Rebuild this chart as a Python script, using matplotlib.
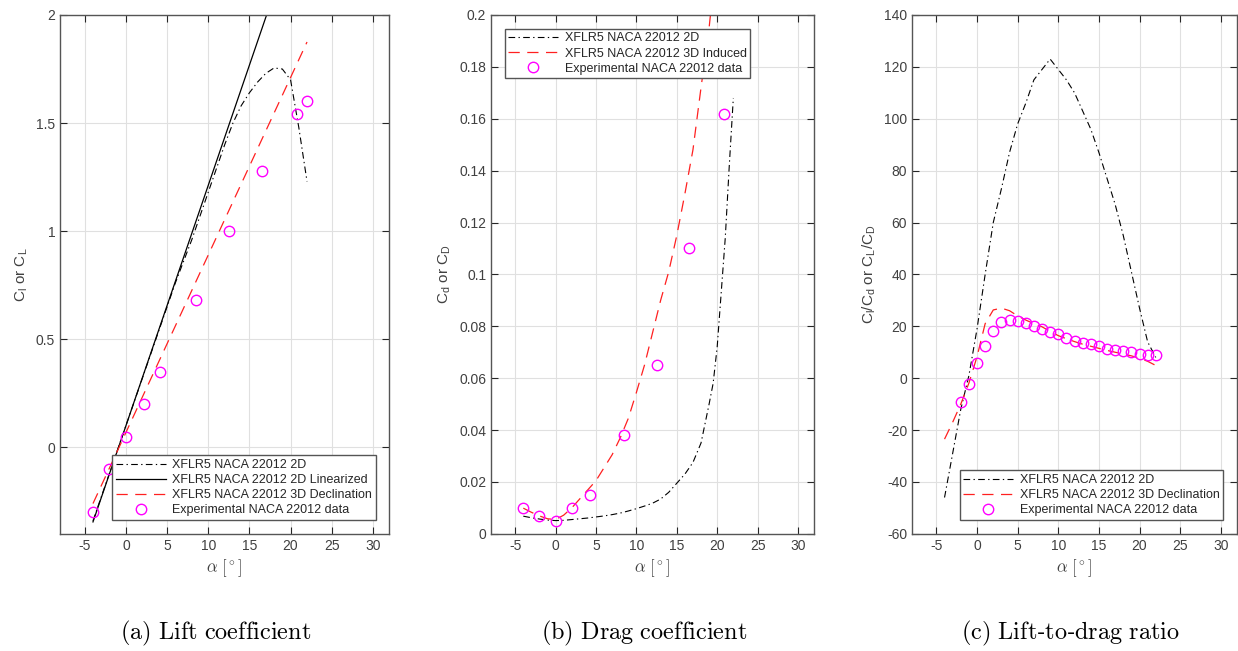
import numpy as np
import matplotlib
matplotlib.use("Agg")
import matplotlib.pyplot as plt

plt.rcParams['font.family'] = ['Liberation Sans', 'DejaVu Sans']
plt.rcParams['mathtext.fontset'] = 'custom'
plt.rcParams['mathtext.rm'] = 'Liberation Sans'
plt.rcParams['mathtext.it'] = 'Liberation Sans:italic'
plt.rcParams['axes.unicode_minus'] = False

# XFLR5 2D polar, NACA 22012
alpha_2d = [-4, -3, -2, -1, 0, 1, 2, 3, 4, 5, 6, 7, 8, 9, 10, 11, 12, 13, 14, 15, 16,
            17, 18, 19, 20, 21, 22]
cl_2d = [-0.34, -0.23, -0.12, -0.01, 0.10, 0.21, 0.32, 0.43, 0.54, 0.65, 0.76, 0.86,
         0.96, 1.07, 1.18, 1.29, 1.40, 1.50, 1.58, 1.64, 1.69, 1.73, 1.755, 1.75, 1.70,
         1.48, 1.23]
ld_2d = [-46, -29, -12, 1, 19, 40, 60, 73, 87, 98, 106, 115, 119, 123, 119, 115, 110,
         103, 96, 87, 77, 67, 55, 41, 27, 14, 8]

alpha_cd2d = [-4, -3, -2, -1, 0, 1, 2, 3, 4, 5, 6, 7, 8, 9, 10, 11, 12, 13, 14, 15, 16,
              17, 18, 19, 19.5, 20, 20.5, 21, 21.5, 22]
cd_2d = [0.0068, 0.0062, 0.0057, 0.0053, 0.0051, 0.0052, 0.0055, 0.0058, 0.0061, 0.0065,
         0.0069, 0.0074, 0.0080, 0.0088, 0.0097, 0.0107, 0.0118, 0.0134, 0.0160, 0.0195,
         0.0230, 0.0275, 0.0350, 0.0500, 0.0580, 0.0720, 0.0930, 0.1140, 0.1420, 0.1680]

# linearized 2D lift and 3D declined lift (straight lines)
alpha_lin = [-4, 22]
cl_lin = [-0.345, 2.546]
alpha_3d = [-4, 22]
cl_3d = [-0.26, 1.875]

# 3D with induced drag
alpha_3dcd = list(range(-4, 23))
cd_3d = [0.0099, 0.0083, 0.0069, 0.0058, 0.0055, 0.0072, 0.0100, 0.0135, 0.0170, 0.0205,
         0.0255, 0.0305, 0.0370, 0.0445, 0.0545, 0.0650, 0.0775, 0.0900, 0.1010, 0.1150,
         0.1310, 0.1480, 0.1720, 0.1950, 0.2250, 0.2600, 0.3000]
ld_3d = [-23.5, -17.0, -10.0, -1.9, 8.3, 21.0, 26.3, 27.0, 26.0, 24.0, 22.4, 21.0, 19.8,
         18.0, 16.4, 15.2, 14.1, 13.1, 12.3, 11.5, 10.7, 10.0, 9.3, 8.6, 7.7, 6.5, 4.9]

# experimental data
alpha_exp_cl = [-4, -2, 0, 2.2, 4.2, 8.5, 12.5, 16.5, 20.8, 22]
cl_exp = [-0.3, -0.1, 0.05, 0.2, 0.35, 0.68, 1.0, 1.28, 1.54, 1.6]
alpha_exp_cd = [-4, -2, 0, 2, 4.2, 8.5, 12.5, 16.5, 20.8]
cd_exp = [0.010, 0.007, 0.005, 0.010, 0.015, 0.038, 0.065, 0.110, 0.162]
alpha_exp_ld = list(range(-2, 23))
ld_exp = [-9.2, -2.3, 5.9, 12.4, 18.3, 21.5, 22.3, 21.9, 21.4, 20.1, 18.8, 17.7, 17.0,
          15.6, 14.5, 13.6, 13.3, 12.5, 11.3, 10.8, 10.5, 10.0, 9.2, 8.8, 8.8]

DK = '#262626'
TXT = '#404040'
dashdot = dict(color='black', lw=0.8, dashes=(6, 3, 1.2, 3))
dashed = dict(color='#ff2020', lw=0.9, dashes=(9, 6))
circ = dict(ls='none', marker='o', ms=7.5, mfc='none', mec='#ff00ff', mew=1.0)


def style_axes(ax, yticks, ylim, ylabel):
    ax.set_xlim(-8, 32)
    ax.set_ylim(*ylim)
    ax.set_xticks(range(-5, 31, 5))
    ax.set_yticks(yticks)
    ax.yaxis.set_major_formatter(matplotlib.ticker.FormatStrFormatter('%g'))
    ax.grid(True, color='#e0e0e0', lw=0.8)
    ax.set_axisbelow(True)
    ax.tick_params(direction='in', top=True, right=True, length=5, width=0.8,
                   color=DK, labelcolor=TXT, labelsize=10)
    for s in ax.spines.values():
        s.set_color('#555555')
        s.set_linewidth(1.0)
    ax.set_xlabel(r'$\alpha\ [^\circ]$', math_fontfamily='cm', fontsize=12, color=TXT,
                  labelpad=3)
    ax.set_ylabel(ylabel, fontsize=11, color=TXT)


def add_legend(ax, loc):
    leg = ax.legend(loc=loc, fontsize=9, handlelength=4, handletextpad=0.5,
                    labelspacing=0.25, borderaxespad=1.1, fancybox=False,
                    framealpha=1, numpoints=1, borderpad=0.3)
    leg.get_frame().set_edgecolor('#555555')
    leg.get_frame().set_linewidth(1.0)
    for t in leg.get_texts():
        t.set_color(DK)


fig = plt.figure(figsize=(12.38, 6.51), dpi=100)
bottom, height = 0.18, 0.797

# (a) lift coefficient
ax1 = fig.add_axes([0.0485, bottom, 0.266, height])
ax1.plot(alpha_2d, cl_2d, label='XFLR5 NACA 22012 2D', **dashdot)
ax1.plot(alpha_lin, cl_lin, color='black', lw=0.9, label='XFLR5 NACA 22012 2D Linearized')
ax1.plot(alpha_3d, cl_3d, label='XFLR5 NACA 22012 3D Declination', **dashed)
ax1.plot(alpha_exp_cl, cl_exp, label='Experimental NACA 22012 data', **circ)
style_axes(ax1, [0, 0.5, 1, 1.5, 2], (-0.4, 2), r'C$_\mathrm{l}$ or C$_\mathrm{L}$')
add_legend(ax1, 'lower right')

# (b) drag coefficient
ax2 = fig.add_axes([0.3966, bottom, 0.261, height])
ax2.plot(alpha_cd2d, cd_2d, label='XFLR5 NACA 22012 2D', **dashdot)
ax2.plot(alpha_3dcd, cd_3d, label='XFLR5 NACA 22012 3D Induced', **dashed)
ax2.plot(alpha_exp_cd, cd_exp, label='Experimental NACA 22012 data', **circ)
style_axes(ax2, np.arange(0, 0.201, 0.02), (0, 0.2), r'C$_\mathrm{d}$ or C$_\mathrm{D}$')
add_legend(ax2, 'upper left')

# (c) lift-to-drag ratio
ax3 = fig.add_axes([0.7367, bottom, 0.2625, height])
ax3.plot(alpha_2d, ld_2d, label='XFLR5 NACA 22012 2D', **dashdot)
ax3.plot(alpha_3dcd, ld_3d, label='XFLR5 NACA 22012 3D Declination', **dashed)
ax3.plot(alpha_exp_ld, ld_exp, label='Experimental NACA 22012 data', **circ)
style_axes(ax3, range(-60, 141, 20), (-60, 140),
           r'C$_\mathrm{l}$/C$_\mathrm{d}$ or C$_\mathrm{L}$/C$_\mathrm{D}$')
add_legend(ax3, 'lower right')

captions = [(216, r'$\mathrm{(a)\ Lift\ coefficient}$'),
            (644, r'$\mathrm{(b)\ Drag\ coefficient}$'),
            (1070, r'$\mathrm{(c)\ Lift}$-$\mathrm{to}$-$\mathrm{drag\ ratio}$')]
for xc, txt in captions:
    fig.text(xc / 1238, 1 - 633 / 651, txt, ha='center', va='center', fontsize=17.5,
             math_fontfamily='cm', color='black')

fig.savefig('out.png', dpi=100)
